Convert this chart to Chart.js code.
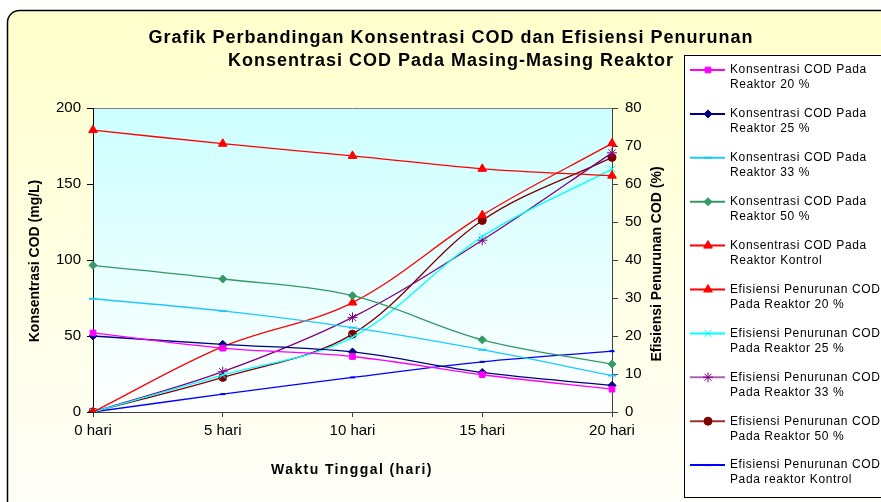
<!DOCTYPE html>
<html>
<head>
<meta charset="utf-8">
<script src="https://cdn.jsdelivr.net/npm/chart.js@4.4.0/dist/chart.umd.min.js"></script>
<style>
  html, body { margin: 0; padding: 0; background: #fff; }
  #wrap { width: 881px; height: 502px; }
</style>
</head>
<body>
<div id="wrap"><canvas id="codChart" width="881" height="502"></canvas></div>
<script>
const hari = ['0 hari', '5 hari', '10 hari', '15 hari', '20 hari'];

// konsentrasi COD (mg/L) - sumbu kiri
const kons20 = [52, 42, 36.5, 24.5, 15];
const kons25 = [50, 44.5, 39.5, 26, 17.5];
const kons33 = [74.5, 66.5, 55.5, 41, 24];
const kons50 = [96.5, 87.5, 76.5, 47.5, 31.5];
const konsKontrol = [185.5, 176.5, 168.5, 160, 155.5];

// efisiensi penurunan COD (%) - sumbu kanan
const efis20 = [0, 17.2, 28.8, 51.8, 70.7];
const efis25 = [0, 9.7, 19.7, 46.1, 63.9];
const efis33 = [0, 10.6, 24.9, 45.2, 68.2];
const efis50 = [0, 9.1, 20.5, 50.4, 67];
const efisKontrol = [0, 4.7, 9.1, 13.2, 16];

const yKiriTicks = [0, 50, 100, 150, 200];
const yKananTicks = [0, 10, 20, 30, 40, 50, 60, 70, 80];

const FONT = '"Liberation Sans", Arial, sans-serif';

function seri(label, data, color, style, radius, axis, legendColor) {
  return {
    label: label,
    data: data,
    yAxisID: axis,
    borderColor: color,
    backgroundColor: color,
    pointBackgroundColor: color,
    pointBorderColor: color,
    pointStyle: style,
    pointRadius: radius,
    pointBorderWidth: style === 'line' ? 2 : 1,
    borderWidth: 1.3,
    tension: 0.35,
    fill: false,
    legendColor: legendColor || color
  };
}

const datasets = [
  seri(['Konsentrasi COD Pada', 'Reaktor 20 %'], kons20, '#ff00ff', 'rect', 4, 'y'),
  seri(['Konsentrasi COD Pada', 'Reaktor 25 %'], kons25, '#000080', 'rectRot', 4, 'y'),
  seri(['Konsentrasi COD Pada', 'Reaktor 33 %'], kons33, '#1ec8ff', 'line', 4, 'y'),
  seri(['Konsentrasi COD Pada', 'Reaktor 50 %'], kons50, '#339966', 'rectRot', 4, 'y'),
  seri(['Konsentrasi COD Pada', 'Reaktor Kontrol'], konsKontrol, '#ff0000', 'triangle', 5, 'y'),
  seri(['Efisiensi Penurunan COD', 'Pada Reaktor 20 %'], efis20, '#ff0000', 'triangle', 5, 'y2'),
  seri(['Efisiensi Penurunan COD', 'Pada Reaktor 25 %'], efis25, '#00ffff', 'crossRot', 5, 'y2'),
  seri(['Efisiensi Penurunan COD', 'Pada Reaktor 33 %'], efis33, '#800080', 'star', 5, 'y2', '#b060b0'),
  seri(['Efisiensi Penurunan COD', 'Pada Reaktor 50 %'], efis50, '#800000', 'circle', 4, 'y2', '#a03030'),
  seri(['Efisiensi Penurunan COD', 'Pada reaktor Kontrol'], efisKontrol, '#0000ff', 'line', 2.5, 'y2')
];

const latar = {
  id: 'latar',
  beforeDraw(chart) {
    const { ctx, chartArea: a } = chart;
    ctx.save();
    ctx.fillStyle = '#ffffff';
    ctx.fillRect(0, 0, chart.width, chart.height);

    // kotak luar
    const g = ctx.createLinearGradient(0, 10, 0, 502);
    g.addColorStop(0, '#ffffcc');
    g.addColorStop(1, '#fefef8');
    ctx.beginPath();
    ctx.roundRect(7.5, 10.5, 900, 520, 12);
    ctx.fillStyle = g;
    ctx.fill();
    ctx.lineWidth = 1.5;
    ctx.strokeStyle = '#000';
    ctx.stroke();

    // area plot
    const g2 = ctx.createLinearGradient(0, a.top, 0, a.bottom);
    g2.addColorStop(0, '#ccffff');
    g2.addColorStop(1, '#ffffff');
    ctx.fillStyle = g2;
    ctx.fillRect(a.left, a.top, a.right - a.left, a.bottom - a.top);
    ctx.strokeStyle = '#808080';
    ctx.lineWidth = 1;
    ctx.beginPath();
    ctx.moveTo(a.left, a.top + 0.5);
    ctx.lineTo(a.right, a.top + 0.5);
    ctx.stroke();

    // judul
    ctx.fillStyle = '#000';
    ctx.textAlign = 'center';
    ctx.textBaseline = 'middle';
    ctx.font = 'bold 18px ' + FONT;
    ctx.letterSpacing = '1px';
    ctx.fillText('Grafik Perbandingan Konsentrasi COD dan Efisiensi Penurunan', 451, 38);
    ctx.fillText('Konsentrasi COD Pada Masing-Masing Reaktor', 451, 61);

    // judul sumbu
    ctx.font = 'bold 14px ' + FONT;
    ctx.letterSpacing = '1.4px';
    ctx.fillText('Waktu Tinggal (hari)', 352, 470);
    ctx.letterSpacing = '0px';
    ctx.save();
    ctx.translate(35, 261);
    ctx.rotate(-Math.PI / 2);
    ctx.fillText('Konsentrasi COD (mg/L)', 0, 0);
    ctx.restore();
    ctx.save();
    ctx.translate(657, 264);
    ctx.rotate(-Math.PI / 2);
    ctx.fillText('Efisiensi Penurunan COD (%)', 0, 0);
    ctx.restore();
    ctx.restore();
  }
};

const legenda = {
  id: 'legenda',
  afterDraw(chart) {
    const { ctx } = chart;
    ctx.save();
    ctx.fillStyle = '#ffffff';
    ctx.fillRect(684, 55, 210, 442);
    ctx.strokeStyle = '#000';
    ctx.lineWidth = 1;
    ctx.strokeRect(684.5, 55.5, 210, 442);

    chart.data.datasets.forEach((ds, i) => {
      const y = 70 + i * 43.9;
      ctx.strokeStyle = ds.legendColor;
      ctx.lineWidth = 2;
      ctx.beginPath();
      ctx.moveTo(690, y);
      ctx.lineTo(725, y);
      ctx.stroke();
      ctx.fillStyle = ds.backgroundColor;
      ctx.strokeStyle = ds.borderColor;
      ctx.lineWidth = ds.pointBorderWidth;
      Chart.helpers.drawPoint(ctx, {
        pointStyle: ds.pointStyle,
        radius: ds.pointRadius,
        rotation: 0,
        borderWidth: ds.pointBorderWidth
      }, 708, y);

      ctx.fillStyle = '#000';
      ctx.font = '12px ' + FONT;
      ctx.letterSpacing = '0.6px';
      ctx.textAlign = 'left';
      ctx.textBaseline = 'middle';
      ctx.fillText(ds.label[0], 730, y);
      ctx.fillText(ds.label[1], 730, y + 15);
    });
    ctx.restore();
  }
};

const ctx = document.getElementById('codChart').getContext('2d');

new Chart(ctx, {
  type: 'line',
  data: {
    labels: hari,
    datasets: datasets
  },
  options: {
    responsive: false,
    animation: false,
    devicePixelRatio: 1,
    layout: { padding: { top: 108, left: 0, right: 0, bottom: 0 } },
    plugins: {
      legend: { display: false },
      title: { display: false },
      tooltip: { enabled: false }
    },
    scales: {
      x: {
        type: 'category',
        offset: false,
        grid: { drawOnChartArea: false, tickLength: 5, color: '#404040' },
        border: { color: '#404040', width: 1 },
        ticks: { color: '#000', font: { family: FONT, size: 15 }, padding: 5, maxRotation: 0 },
        afterFit(scale) { scale.height = 90; }
      },
      y: {
        position: 'left',
        min: 0,
        max: 200,
        afterBuildTicks(scale) { scale.ticks = yKiriTicks.map(v => ({ value: v })); },
        grid: { drawOnChartArea: false, tickLength: 6, color: '#000' },
        border: { color: '#000', width: 1 },
        ticks: { color: '#000', font: { family: FONT, size: 15 }, padding: 6 },
        afterFit(scale) { scale.width = 93; }
      },
      y2: {
        position: 'right',
        min: 0,
        max: 80,
        afterBuildTicks(scale) { scale.ticks = yKananTicks.map(v => ({ value: v })); },
        grid: { drawOnChartArea: false, tickLength: 6, color: '#404040' },
        border: { color: '#404040', width: 1 },
        ticks: { color: '#000', font: { family: FONT, size: 15 }, padding: 7 },
        afterFit(scale) { scale.width = 269; }
      }
    }
  },
  plugins: [latar, legenda]
});
</script>
</body>
</html>
